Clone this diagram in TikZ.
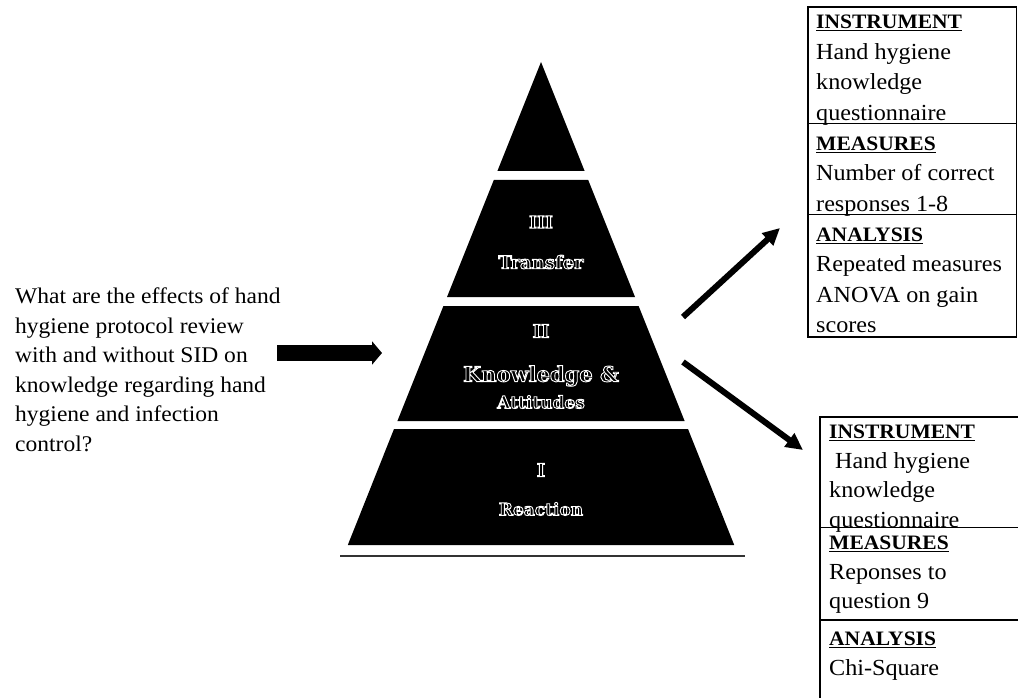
\documentclass[tikz,border=0pt]{standalone}
\usepackage{fontspec}
\setmainfont{Liberation Serif}[FakeStretch=1.05]
\newfontfamily\layerfont{DejaVu Serif}
\usetikzlibrary{arrows.meta}
% outlined (stroked) glyphs for the labels inside the pyramid
\newcommand{\hollowtext}[1]{\special{pdf:literal direct 1 Tr 0.9 w}#1\special{pdf:literal direct 0 Tr}}
% underlined bold section heading
\newcommand{\heading}[1]{{\fontsize{20.5}{20.5}\selectfont\bfseries\underline{#1}}}
\begin{document}
\begin{tikzpicture}[x=1pt,y=-1pt,
  layer/.style={fill=black,draw=none},
  lvl/.style={text=white,inner sep=0,font=\layerfont\bfseries\fontsize{#1}{#1}\selectfont},
  boxtext/.style={anchor=north west,inner sep=0,align=left,font=\fontsize{23}{#1}\selectfont},
  qtext/.style={anchor=north west,inner sep=0,align=left,font=\fontsize{22.4}{29.5}\selectfont},
  frame/.style={draw=black,line width=1.4pt},
  bigarrow/.style={line width=16pt,-{Triangle[length=10pt,width=23pt]}},
  thinarrow/.style={line width=6pt,-{Triangle[length=17pt,width=16pt]}}]
\useasboundingbox (0,0) rectangle (1018,698);
\clip (0,0) rectangle (1018,698);

% pyramid: centre x = 541, apex y = 62, half-width = 0.40 * (y - 62)
\fill[layer] (541,62) -- (584.6,171) -- (497.4,171) -- cycle;
\fill[layer] (493.8,180) -- (588.2,180) -- (635,297) -- (447,297) -- cycle;
\fill[layer] (443.4,306) -- (638.6,306) -- (684.6,421) -- (397.4,421) -- cycle;
\fill[layer] (394,429) -- (688,429) -- (734.2,545) -- (347.8,545) -- cycle;
\draw[black!80,line width=1.8pt] (340,556) -- (745,556);

% level labels
\node[lvl=17] (l3n) at (541,222) {\hollowtext{III}};
\node[lvl=18] (l3t) at (541,262) {\hollowtext{Transfer}};
\node[lvl=18] (l2n) at (541,331) {\hollowtext{II}};
\node[lvl=21] (l2t) at (541,376) {\hollowtext{Knowledge \&}};
\node[lvl=17] (l2s) at (541,402) {\hollowtext{Attitudes}};
\node[lvl=18] (l1n) at (541,470) {\hollowtext{I}};
\node[lvl=17] (l1t) at (541,509) {\hollowtext{Reaction}};

% research question
\node[qtext] (question) at (15,288) {What are the effects of hand\\hygiene protocol review\\with and without SID on\\knowledge regarding hand\\hygiene and infection\\control?};

% upper information box
\draw[frame] (808,7) rectangle (1016.5,337);
\draw[frame] (808,123.5) -- (1016.5,123.5);
\draw[frame] (808,214.5) -- (1016.5,214.5);
\node[boxtext=30.5] (ti) at (816,15.2) {\heading{INSTRUMENT}\\Hand hygiene\\knowledge\\questionnaire};
\node[boxtext=30.5] (tm) at (816,136.7) {\heading{MEASURES}\\Number of correct\\responses 1-8};
\node[boxtext=30.5] (ta) at (816,227.7) {\heading{ANALYSIS}\\Repeated measures\\ANOVA on gain\\scores};

% lower information box (runs off the right and bottom edges)
\draw[frame] (1030,417) -- (820,417) -- (820,710);
\draw[frame] (820,527.5) -- (1030,527.5);
\draw[frame] (820,620) -- (1030,620);
\node[boxtext=29.5] (bi) at (829,425.2) {\heading{INSTRUMENT}\\\ Hand hygiene\\knowledge\\questionnaire};
\node[boxtext=29.5] (bm) at (829,536.2) {\heading{MEASURES}\\Reponses to\\question 9};
\node[boxtext=29.5] (ba) at (829,632.2) {\heading{ANALYSIS}\\Chi-Square};

% connectors
\coordinate (qout) at (277,353);
\coordinate (pin) at (382,353);
\coordinate (pupper) at (683,317);
\coordinate (plower) at (683,362);
\coordinate (tin) at (780,228);
\coordinate (bin) at (803,450);
\draw[bigarrow] (qout) -- (pin);
\draw[thinarrow] (pupper) -- (tin);
\draw[thinarrow] (plower) -- (bin);
\end{tikzpicture}
\end{document}
